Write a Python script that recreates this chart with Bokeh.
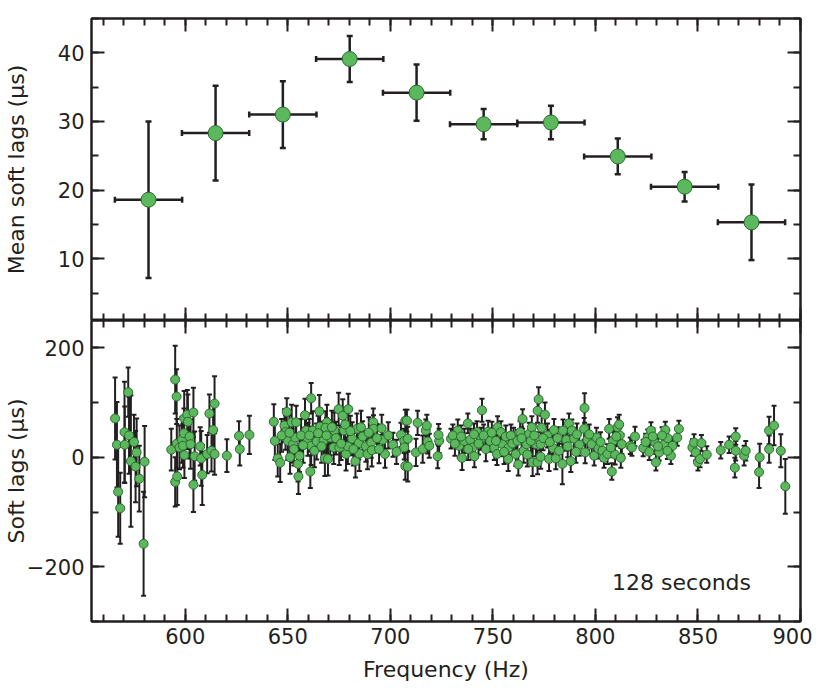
from bokeh.plotting import figure
from bokeh.models import (Range1d, LinearAxis, SingleIntervalTicker, Whisker,
                          TeeHead, ColumnDataSource, Label)
from bokeh.layouts import column
from bokeh.embed import file_html
from bokeh.resources import INLINE

# ---------------- data ----------------
# top panel: mean soft lags per frequency bin
mean_freq = [582.1, 614.8, 647.6, 680.2, 712.8, 745.5, 778.3, 810.9, 843.5, 876.1]
mean_lag = [18.6, 28.3, 31.0, 39.1, 34.2, 29.6, 29.85, 24.9, 20.5, 15.3]
mean_err = [11.4, 6.9, 4.85, 3.35, 4.1, 2.2, 2.45, 2.6, 2.15, 5.5]
bin_half = [16.4, 16.4, 16.4, 16.4, 16.4, 16.4, 16.4, 16.4, 16.4, 16.4]

# bottom panel: individual 128 s soft lags
lag_freq = [
    565.8, 566.7, 567.3, 568.3, 570.4, 570.5, 572.2, 572.6, 573.5, 575.0,
    575.8, 576.3, 577.6, 579.7, 580.2,
    593.2, 595.1, 595.8, 595.1, 596.1, 595.9, 597.2, 598.4, 598.9, 599.4,
    599.5, 599.6, 601.0, 601.3, 602.1, 602.6, 604.0, 604.0, 604.6, 607.3,
    607.8, 608.3, 610.7, 611.8, 612.8, 613.6, 614.3, 614.3, 620.3, 626.2,
    626.6, 631.3,
    643.2, 643.7, 645.1, 646.3, 648.4, 649.5, 648.9, 650.0, 651.1, 651.9,
    652.6, 654.1, 655.0, 655.2, 655.7, 653.7, 658.4, 658.9, 659.8, 661.0,
    661.4, 662.2, 661.4, 664.1, 665.4, 665.8, 667.4, 668.1, 669.1, 668.4,
    669.6, 670.7, 672.4, 672.7, 674.8, 675.1, 676.8, 677.4, 678.4, 679.5,
    679.3, 681.4, 683.0, 683.7, 684.6, 684.9, 685.7, 688.1, 688.9, 690.7,
    691.0, 691.7, 691.8, 695.8, 696.3, 697.4, 701.3, 705.2, 706.8, 707.3,
    707.3,
    647.0, 650.8, 653.0, 656.5, 657.5, 660.5, 663.0, 664.8, 666.5, 668.9,
    671.5, 673.5, 676.0, 678.0, 680.5, 682.0, 686.5, 689.5, 693.5, 694.5,
    699.0, 703.0,
    708.1, 708.5, 706.8, 708.5, 712.5, 713.3, 715.8, 717.3, 717.8, 718.2,
    719.0, 723.1, 723.8, 723.5, 729.6, 732.9, 733.6, 735.0, 736.1, 737.8,
    739.0, 740.2, 741.0, 742.3, 744.7, 744.2, 746.6, 747.7, 748.7, 750.7,
    752.0, 752.3, 753.9, 754.7, 756.3, 757.5, 757.7, 760.1, 761.2, 762.4,
    763.3, 764.5, 765.0, 766.4, 767.7, 769.0, 769.4, 771.8, 772.3, 771.8,
    771.0,
    730.5, 731.5, 734.5, 738.0, 740.8, 743.0, 745.5, 749.5, 751.5, 755.5,
    758.8, 759.5, 762.0, 764.0, 766.8, 768.5, 770.2,
    775.4, 773.8, 773.3, 773.3, 776.6, 777.4, 779.8, 779.3, 780.7, 782.3,
    783.9, 784.2, 785.8, 787.1, 788.0, 788.5, 789.6, 792.1, 794.7, 794.5,
    795.0, 796.1, 798.2, 799.4, 800.5, 801.5, 803.4, 804.2, 805.9, 806.7,
    808.6, 808.0, 809.6, 810.8, 811.6, 811.9, 812.4, 812.9, 817.0, 817.8,
    819.3, 823.3, 825.5, 827.1, 826.3, 829.2, 829.5, 831.1, 833.6, 834.1,
    835.2, 836.8, 837.6,
    774.5, 777.8, 781.5, 786.5, 790.5, 791.0, 797.0, 802.5, 807.5, 810.2,
    824.5, 828.0, 830.5, 832.5,
    835.1, 839.9, 840.7, 847.3, 848.1, 848.9, 850.0, 851.0, 851.7, 854.3,
    861.1, 865.2, 868.4, 868.4, 868.0, 872.5, 873.3, 880.1, 879.8, 884.7,
    887.1, 884.7, 890.4, 892.6,
]
lag_value = [
    71, 23, -63, -93, 46, 23, 119, 40, -7, 28,
    -17, 9, -39, -158, -8,
    14, 142, 111, -45, -35, 25, 18, 32, 21, 44,
    71, 4, 78, 65, 38, 24, 82, -50, 2, 20,
    -2, -32, 6, 80, 12, 50, 98, 6, 3, 39,
    15, 41,
    65, 30, -2, -10, 58, 83, 46, 30, 0, 64,
    24, 64, -12, -35, 3, 36, 77, 49, 33, -26,
    108, 49, 21, 29, 84, 56, 30, -2, 64, 54,
    -3, 36, 18, 49, 88, 18, 76, 49, 6, 88,
    20, 34, -7, 52, 26, 7, 55, 20, 6, 27,
    13, 64, 52, 53, 32, 6, 23, 41, 30, 67,
    -16,
    40, 45, 15, 40, 22, 40, 12, 44, 20, 40,
    55, 35, 25, 60, 48, 15, 38, 45, 35, 15,
    40, 10,
    67, 34, 18, -17, 9, 63, 15, 49, 58, 29,
    21, 2, 30, 41, 34, 49, 21, -1, 30, 62,
    32, 18, 2, 46, 86, 34, 15, 47, 30, 17,
    6, 55, 46, 24, 38, -3, 18, 34, 6, -13,
    46, 70, 12, 24, 43, 55, -9, 85, 106, -9,
    24,
    40, 25, 38, 15, 42, 25, 40, 45, 30, 10,
    40, 25, 30, 35, 5, 30, 40,
    78, 54, 24, 1, 40, -3, 50, 17, -2, 12,
    -12, 49, 32, 62, -7, 49, 34, 23, 90, 52,
    9, 32, 24, 3, 36, 16, 12, -1, 6, 52,
    30, -26, 5, 55, 60, 40, -1, 24, 21, 18,
    38, 17, 36, 49, 10, 26, -9, 9, 24, 50,
    35, 3, 21,
    35, 28, 35, 20, 10, 42, 42, 28, 18, 38,
    28, 38, 20, 40,
    12, 36, 52, 18, 27, 9, -9, -3, 26, 5,
    13, 23, 38, 12, -19, 3, 12, 0, -27, 49,
    58, 15, 12, -53,
]
lag_error = [
    75, 78, 82, 65, 92, 70, 45, 70, 120, 50,
    65, 62, 60, 95, 65,
    38, 62, 50, 45, 52, 45, 40, 42, 40, 45,
    50, 42, 45, 50, 40, 45, 45, 50, 45, 35,
    50, 55, 35, 35, 38, 45, 50, 38, 30, 27,
    30, 35,
    32, 35, 33, 35, 30, 25, 32, 35, 30, 32,
    34, 30, 32, 32, 30, 33, 30, 32, 30, 30,
    28, 35, 35, 33, 30, 33, 35, 32, 32, 30,
    30, 32, 30, 33, 30, 32, 30, 32, 30, 28,
    32, 30, 30, 28, 30, 32, 30, 28, 28, 28,
    30, 25, 25, 25, 25, 25, 22, 22, 22, 20,
    25,
    30, 32, 30, 30, 32, 30, 30, 32, 30, 32,
    30, 30, 30, 30, 28, 30, 28, 28, 26, 26,
    24, 22,
    20, 22, 22, 27, 25, 22, 25, 20, 20, 22,
    22, 22, 22, 20, 18, 20, 22, 22, 22, 18,
    20, 22, 20, 20, 21, 20, 22, 20, 20, 22,
    20, 20, 20, 22, 20, 22, 22, 20, 22, 20,
    20, 18, 22, 22, 20, 20, 25, 22, 22, 22,
    22,
    20, 22, 20, 20, 20, 20, 20, 20, 20, 22,
    20, 20, 20, 20, 22, 20, 20,
    22, 22, 22, 22, 22, 22, 20, 22, 20, 20,
    37, 20, 20, 18, 20, 20, 20, 20, 27, 20,
    20, 18, 18, 18, 18, 18, 18, 18, 18, 18,
    18, 15, 18, 18, 18, 18, 18, 18, 15, 15,
    18, 15, 15, 15, 15, 15, 15, 15, 15, 15,
    15, 15, 15,
    22, 22, 20, 20, 20, 20, 18, 18, 18, 18,
    15, 15, 15, 15,
    15, 15, 15, 15, 15, 15, 15, 15, 15, 15,
    15, 15, 15, 18, 18, 18, 18, 25, 29, 25,
    36, 25, 30, 50,
]

label_text = "128 seconds"
label_freq = 842.0
label_lag = -228.0

# ---------------- style ----------------
INK = "#231f20"
FILL = "#5cb85c"
EDGE = "#2d6a33"
FONT = "DejaVu Sans"

x_range = Range1d(554.3, 900.0)


def style_axis(ax, show_labels, standoff=7):
    ax.major_tick_in = 13
    ax.major_tick_out = 0
    ax.minor_tick_in = 7
    ax.minor_tick_out = 0
    ax.major_tick_line_width = 2
    ax.minor_tick_line_width = 2
    ax.major_tick_line_color = INK
    ax.minor_tick_line_color = INK
    ax.axis_line_width = 2
    ax.axis_line_color = INK
    ax.major_label_text_font = FONT
    ax.major_label_text_font_size = "21px"
    ax.axis_label_text_font = FONT
    ax.axis_label_text_font_size = "22px"
    ax.axis_label_text_font_style = "normal"
    ax.axis_label_text_color = INK
    if show_labels:
        ax.major_label_text_color = INK
        ax.major_label_standoff = standoff
    else:
        ax.major_label_text_color = None
        ax.major_label_standoff = 0


def add_mirror(p, ticker, side):
    ax = LinearAxis(ticker=ticker)
    style_axis(ax, False)
    p.add_layout(ax, side)


# ---------------- top panel ----------------
top = figure(width=812, height=320, x_range=x_range, y_range=Range1d(1, 45),
             output_backend="svg", toolbar_location=None,
             min_border_left=90, min_border_right=12, min_border_top=18,
             min_border_bottom=0)
top.xaxis.ticker = SingleIntervalTicker(interval=50, num_minor_ticks=5)
top.yaxis.ticker = SingleIntervalTicker(interval=10, num_minor_ticks=2)
style_axis(top.xaxis[0], False)
style_axis(top.yaxis[0], True)
top.yaxis.axis_label = "Mean soft lags (μs)"
top.yaxis.axis_label_standoff = 26
add_mirror(top, SingleIntervalTicker(interval=50, num_minor_ticks=5), "above")
add_mirror(top, SingleIntervalTicker(interval=10, num_minor_ticks=2), "right")
top.xgrid.visible = False
top.ygrid.visible = False
top.outline_line_color = INK
top.outline_line_width = 2

src_top = ColumnDataSource(dict(
    x=mean_freq, y=mean_lag,
    ylo=[v - e for v, e in zip(mean_lag, mean_err)],
    yhi=[v + e for v, e in zip(mean_lag, mean_err)],
    xlo=[f - h for f, h in zip(mean_freq, bin_half)],
    xhi=[f + h for f, h in zip(mean_freq, bin_half)],
))
for dim, base, lo, hi in (("height", "x", "ylo", "yhi"), ("width", "y", "xlo", "xhi")):
    w = Whisker(source=src_top, base=base, lower=lo, upper=hi, dimension=dim,
                line_color=INK, line_width=2.5,
                upper_head=TeeHead(size=6, line_color=INK, line_width=2.5),
                lower_head=TeeHead(size=6, line_color=INK, line_width=2.5))
    top.add_layout(w)
top.scatter("x", "y", source=src_top, size=15, fill_color=FILL,
            line_color=EDGE, line_width=1)

# ---------------- bottom panel ----------------
bot = figure(width=812, height=366, x_range=x_range, y_range=Range1d(-300, 250),
             output_backend="svg", toolbar_location=None,
             min_border_left=90, min_border_right=12, min_border_top=0,
             min_border_bottom=65)
bot.xaxis.ticker = SingleIntervalTicker(interval=50, num_minor_ticks=5)
bot.yaxis.ticker = SingleIntervalTicker(interval=200, num_minor_ticks=2)
style_axis(bot.xaxis[0], True, standoff=6)
style_axis(bot.yaxis[0], True)
bot.xaxis.axis_label = "Frequency (Hz)"
bot.xaxis.axis_label_standoff = 10
bot.yaxis.axis_label = "Soft lags (μs)"
bot.yaxis.axis_label_standoff = -5
bot.yaxis.major_label_overrides = {-200: "\u2212200"}
add_mirror(bot, SingleIntervalTicker(interval=50, num_minor_ticks=5), "above")
add_mirror(bot, SingleIntervalTicker(interval=200, num_minor_ticks=2), "right")
bot.xgrid.visible = False
bot.ygrid.visible = False
bot.outline_line_color = INK
bot.outline_line_width = 2

src_bot = ColumnDataSource(dict(
    x=lag_freq, y=lag_value,
    ylo=[v - e for v, e in zip(lag_value, lag_error)],
    yhi=[v + e for v, e in zip(lag_value, lag_error)],
))
wb = Whisker(source=src_bot, base="x", lower="ylo", upper="yhi", dimension="height",
             line_color=INK, line_width=2,
             upper_head=TeeHead(size=5, line_color=INK, line_width=2),
             lower_head=TeeHead(size=5, line_color=INK, line_width=2))
bot.add_layout(wb)
bot.scatter("x", "y", source=src_bot, size=9, fill_color=FILL,
            line_color=EDGE, line_width=1)

bot.add_layout(Label(x=label_freq, y=label_lag, text=label_text,
                     text_align="center", text_baseline="middle",
                     text_font=FONT, text_font_size="22px", text_color=INK))

layout = column(top, bot, spacing=0)
open("out.html", "w").write(file_html(layout, INLINE))
